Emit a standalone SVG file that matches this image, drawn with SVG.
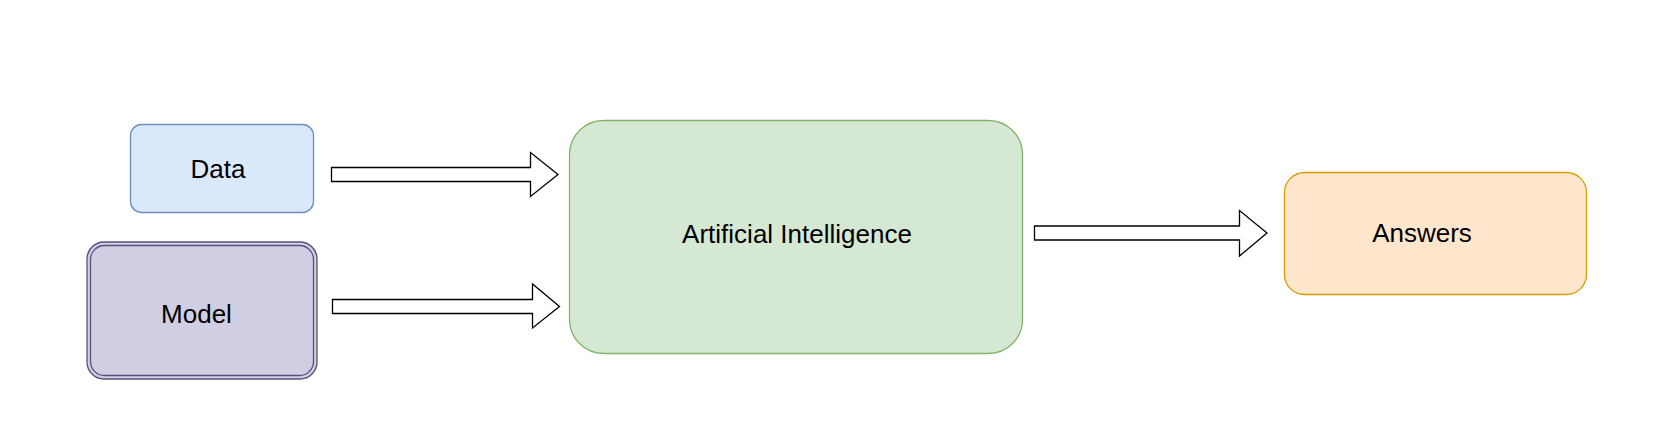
<svg xmlns="http://www.w3.org/2000/svg" width="1679" height="441" viewBox="0 0 1679 441">
<style>
.lbl{font-family:"Liberation Sans",Arial,sans-serif;font-size:26px;fill:#000;text-anchor:middle}
.arrow{fill:#fff;stroke:#000;stroke-width:1.3;stroke-linejoin:miter}
</style>
<rect width="1679" height="441" fill="#fff"/>
<g id="data">
<rect x="130.5" y="124.5" width="183" height="88" rx="11" fill="#dae8fc" stroke="#6c8ebf" stroke-width="1.3"/>
<text class="lbl" x="218" y="178">Data</text>
</g>
<g id="model">
<rect x="87" y="242" width="230" height="137" rx="17" fill="#d0cee2" stroke="#56517e" stroke-width="1.3"/>
<rect x="90.5" y="245.5" width="223" height="130" rx="14" fill="none" stroke="#56517e" stroke-width="1.3"/>
<text class="lbl" x="196.5" y="323">Model</text>
</g>
<g id="ai">
<rect x="569.5" y="120.5" width="453" height="233" rx="34" fill="#d5e8d4" stroke="#82b366" stroke-width="1.3"/>
<text class="lbl" x="797" y="243">Artificial Intelligence</text>
</g>
<g id="answers">
<rect x="1284.5" y="172.5" width="302" height="122" rx="20" fill="#ffe6cc" stroke="#d79b00" stroke-width="1.3"/>
<text class="lbl" x="1422" y="242">Answers</text>
</g>
<g id="connectors">
<path class="arrow" d="M331.5 167.5 H530.5 V152.5 L558 174.5 L530.5 196.5 V181.5 H331.5 Z"/>
<path class="arrow" d="M332.5 299.5 H532.5 V284 L559.5 306.5 L532.5 328 V313.5 H332.5 Z"/>
<path class="arrow" d="M1034.5 226 H1239.5 V210.5 L1267 233 L1239.5 256 V240 H1034.5 Z"/>
</g>
</svg>
